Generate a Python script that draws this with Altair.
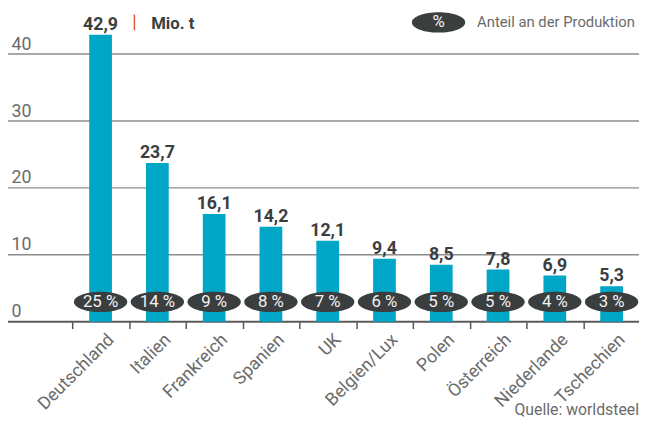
import altair as alt
import pandas as pd

countries = ["Deutschland", "Italien", "Frankreich", "Spanien", "UK",
             "Belgien/Lux", "Polen", "Österreich", "Niederlande", "Tschechien"]
values = [42.9, 23.7, 16.1, 14.2, 12.1, 9.4, 8.5, 7.8, 6.9, 5.3]
shares = [25, 14, 9, 8, 7, 6, 5, 5, 4, 3]
y_ticks = [10, 20, 30, 40]

unit_label = "Mio. t"
legend_label = "Anteil an der Produktion"
source_label = "Quelle: worldsteel"

df = pd.DataFrame({
    "land": countries,
    "wert": values,
    "anteil": shares,
    "wert_txt": [f"{v:.1f}".replace(".", ",") for v in values],
    "anteil_txt": [f"{s} %" for s in shares],
})

FONT = "Roboto"
BAR = "#00a6c6"
DARK = "#3b3e3f"
GRAY = "#6b6b6b"
ELLIPSE = "M-1,0 A1,0.38,0,1,1,1,0 A1,0.38,0,1,1,-1,0 Z"
ELL_SIZE = 2916

xs = alt.Scale(domain=countries, range=[65, 640], paddingInner=0, paddingOuter=0)
ys = alt.Scale(domain=[0, 46.5], nice=False)

base = alt.Chart(df)

grid = alt.Chart(pd.DataFrame({"v": y_ticks})).mark_rule(
    color="#8c8c8c", strokeWidth=1.5).encode(
    y=alt.Y("v:Q", scale=ys), x=alt.value(0), x2=alt.value(639))

zero = alt.Chart(pd.DataFrame({"v": [0]})).mark_rule(
    color="#5a5a5a", strokeWidth=2).encode(
    y=alt.Y("v:Q", scale=ys), x=alt.value(0), x2=alt.value(639))

bars = base.mark_bar(color=BAR, size=23).encode(
    x=alt.X("land:N", scale=xs, sort=countries, title=None,
            axis=alt.Axis(labelAngle=-45, labelAlign="right", labelBaseline="top",
                          labelFontSize=18, labelColor=GRAY, labelFont=FONT,
                          labelPadding=2, labelOffset=4, tickBand="extent", tickSize=7,
                          tickColor="#555555", tickWidth=1.5, domain=False,
                          grid=False)),
    y=alt.Y("wert:Q", scale=ys, title=None,
            axis=alt.Axis(values=[0] + y_ticks, ticks=False, domain=False, grid=False,
                          labelAlign="left", labelBaseline="alphabetic",
                          labelPadding=-3, labelOffset=-5,
                          labelFontSize=18, labelColor=GRAY, labelFont=FONT)),
)

vals = base.mark_text(font=FONT, fontSize=18, fontWeight="bold", color=DARK,
                      baseline="alphabetic", dy=-5).encode(
    x=alt.X("land:N", scale=xs, sort=countries),
    y=alt.Y("wert:Q", scale=ys),
    text="wert_txt:N",
)

ell = base.mark_point(shape=ELLIPSE, size=ELL_SIZE, filled=True, color=DARK,
                      opacity=1).encode(
    x=alt.X("land:N", scale=xs, sort=countries),
    y=alt.datum(2.95, scale=ys),
)

pct = base.mark_text(font=FONT, fontSize=17, color="#f2f2f2", baseline="middle").encode(
    x=alt.X("land:N", scale=xs, sort=countries),
    y=alt.datum(2.95, scale=ys),
    text="anteil_txt:N",
)

ann = pd.DataFrame({"t": [unit_label]})
unit = alt.Chart(ann).mark_text(font=FONT, fontSize=17, fontWeight="bold", color=DARK,
                                align="left", baseline="alphabetic").encode(
    x=alt.value(145), y=alt.value(19), text="t:N")
sep = alt.Chart(ann).mark_rule(color="#e2573a", strokeWidth=1.5).encode(
    x=alt.value(128), y=alt.value(4), y2=alt.value(20))
leg_ell = alt.Chart(ann).mark_point(shape=ELLIPSE, size=ELL_SIZE, filled=True, color=DARK,
                                    opacity=1).encode(x=alt.value(436), y=alt.value(12))
leg_pct = alt.Chart(ann).mark_text(font=FONT, fontSize=17, color="#f2f2f2",
                                   baseline="middle").encode(
    x=alt.value(436), y=alt.value(12), text=alt.value("%"))
leg_txt = alt.Chart(pd.DataFrame({"t": [legend_label]})).mark_text(
    font=FONT, fontSize=15, color=GRAY, align="left", baseline="middle").encode(
    x=alt.value(475), y=alt.value(12), text="t:N")
src = alt.Chart(pd.DataFrame({"t": [source_label]})).mark_text(
    font=FONT, fontSize=16, color=GRAY, align="right", baseline="alphabetic").encode(
    x=alt.value(639), y=alt.value(410), text="t:N")

chart = alt.layer(grid, zero, bars, vals, ell, pct, sep, unit, leg_ell, leg_pct,
                  leg_txt, src).properties(
    width=639, height=315,
    autosize=alt.AutoSizeParams(type="none"),
    padding={"left": 0, "top": 0, "right": 0, "bottom": 101},
).configure_view(stroke=None)

chart.save("out.html", embed_options={"renderer": "svg", "actions": False})
